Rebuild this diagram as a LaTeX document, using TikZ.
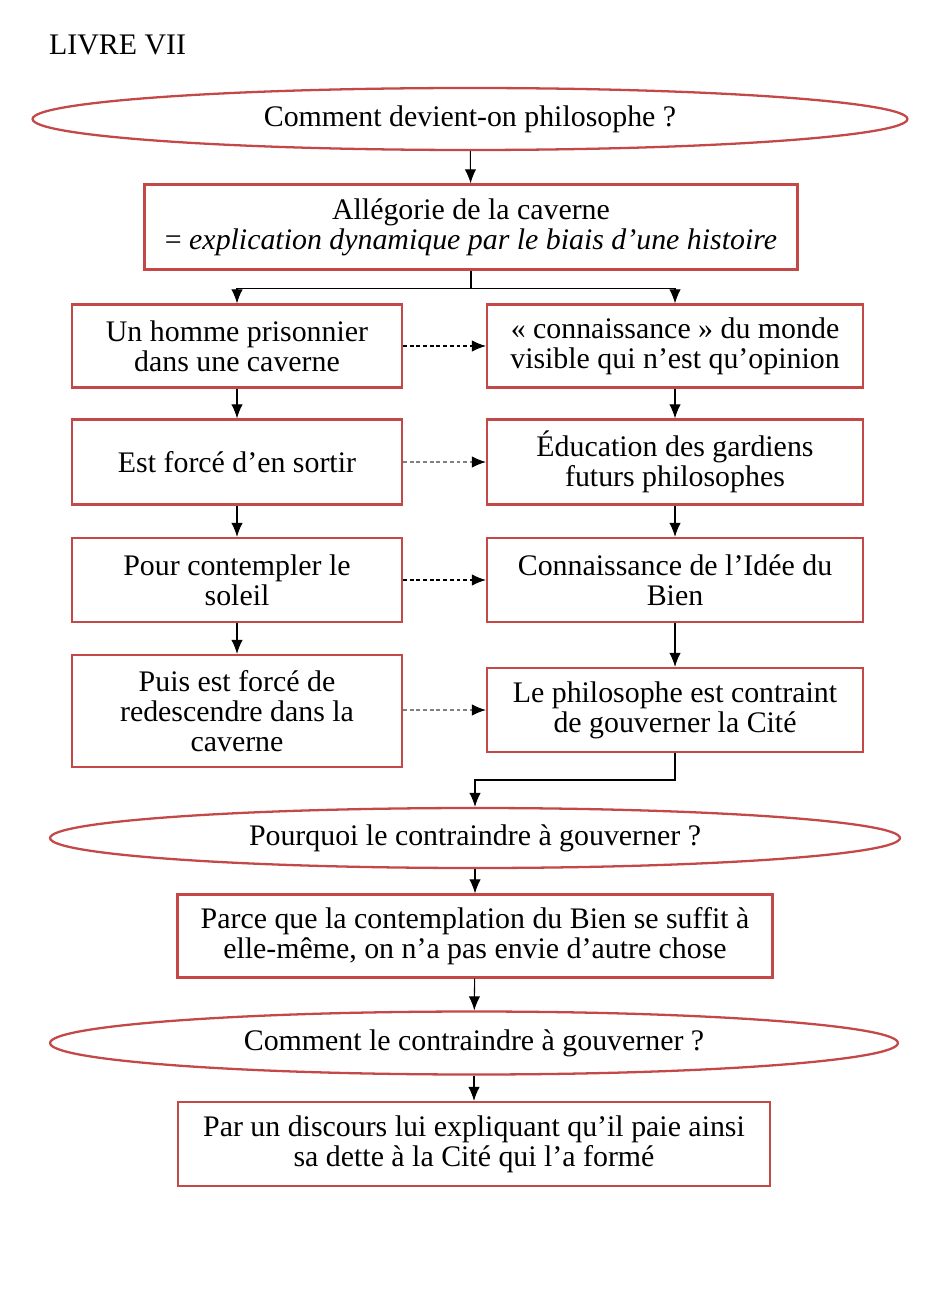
\documentclass[tikz,border=0pt]{standalone}
\usepackage{fontspec}
\setmainfont{Liberation Serif}
\usepackage{xcolor}
\usepackage{tikz}
\usetikzlibrary{shapes, arrows.meta, positioning, calc}

\definecolor{boxred}{RGB}{196,72,72}

\tikzset{
  box/.style={draw=boxred, line width=1.3pt, rectangle, align=center, inner sep=2pt},
  question/.style={draw=boxred, line width=1.3pt, ellipse, align=center, inner sep=0pt},
  arr/.style={-{Latex[length=8pt,width=6.5pt]}, line width=0.6pt},
  dasharr/.style={arr, dash pattern=on 2.2pt off 1.6pt},
  greyarr/.style={dasharr, gray, -{Latex[length=8pt,width=6.5pt,black]}},
}

\begin{document}
\begin{tikzpicture}[x=0.02cm, y=-0.02cm, font=\fontsize{17}{17}\selectfont]
\useasboundingbox (0,0) rectangle (936,1297);

\node[anchor=west] (livre) at (43,45) {LIVRE VII};

% First question
\node[question, minimum width=17.5cm, minimum height=1.24cm] (devient) at (470,119)
   {Comment devient-on philosophe ?};
\node[box, minimum width=13.06cm, minimum height=1.7cm] (allegorie) at (471,227)
   {Allégorie de la caverne\\= \textit{explication dynamique par le biais d’une histoire}};

\draw[arr] (devient) -- (allegorie);

% Left column: the story
\node[box, minimum width=6.6cm, minimum height=1.66cm] (prisonnier) at (237,346)
   {Un homme prisonnier\\dans une caverne};
\node[box, minimum width=6.6cm, minimum height=1.7cm] (sortir) at (237,462)
   {Est forcé d’en sortir};
\node[box, minimum width=6.6cm, minimum height=1.68cm] (soleil) at (237,580)
   {Pour contempler le\\soleil};
\node[box, minimum width=6.6cm, minimum height=2.24cm] (redescendre) at (237,711)
   {Puis est forcé de\\redescendre dans la\\caverne};

% Right column: what it means
\node[box, minimum width=7.52cm, minimum height=1.66cm] (opinion) at (675,346)
   {« connaissance » du monde\\visible qui n’est qu’opinion};
\node[box, minimum width=7.52cm, minimum height=1.7cm] (education) at (675,462)
   {Éducation des gardiens\\futurs philosophes};
\node[box, minimum width=7.52cm, minimum height=1.68cm] (idee) at (675,580)
   {Connaissance de l’Idée du\\Bien};
\node[box, minimum width=7.52cm, minimum height=1.68cm] (gouverner) at (675,710)
   {Le philosophe est contraint\\de gouverner la Cité};

\coordinate (split) at ($(allegorie.south)+(0,18)$);
\draw[line width=1pt] (allegorie.south) -- (split);
\draw[arr] (split) -| (prisonnier);
\draw[arr] (split) -| (opinion);

\draw[arr] (prisonnier) -- (sortir);
\draw[arr] (sortir) -- (soleil);
\draw[arr] (soleil) -- (redescendre);
\draw[arr] (opinion) -- (education);
\draw[arr] (education) -- (idee);
\draw[arr] (idee) -- (gouverner);

\draw[dasharr] (prisonnier) -- (opinion);
\draw[greyarr] (sortir) -- (education);
\draw[dasharr] (soleil) -- (idee);
\draw[greyarr] (redescendre.east |- gouverner) -- (gouverner);

% Why and how
\node[question, minimum width=17cm, minimum height=1.2cm] (pourquoi) at (475,838)
   {Pourquoi le contraindre à gouverner ?};
\node[box, minimum width=11.9cm, minimum height=1.66cm] (parce) at (475,936)
   {Parce que la contemplation du Bien se suffit à\\elle-même, on n’a pas envie d’autre chose};
\node[question, minimum width=16.96cm, minimum height=1.26cm] (comment) at (474,1043)
   {Comment le contraindre à gouverner ?};
\node[box, minimum width=11.84cm, minimum height=1.68cm] (discours) at (474,1144)
   {Par un discours lui expliquant qu’il paie ainsi\\sa dette à la Cité qui l’a formé};

\coordinate (merge) at (475,780);
\draw[arr] (gouverner.south) |- (merge) -- (pourquoi.north);
\draw[arr] (pourquoi) -- (parce);
\draw[arr] (parce) -- (comment);
\draw[arr] (comment) -- (discours);
\end{tikzpicture}
\end{document}
